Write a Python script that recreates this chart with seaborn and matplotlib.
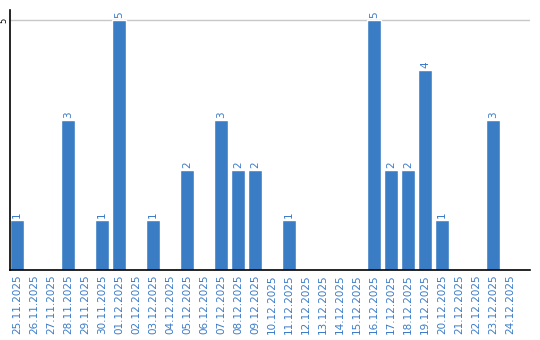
import matplotlib
matplotlib.use("Agg")
import matplotlib.pyplot as plt
import seaborn as sns
import pandas as pd

dates = ["25.11.2025", "26.11.2025", "27.11.2025", "28.11.2025", "29.11.2025",
         "30.11.2025", "01.12.2025", "02.12.2025", "03.12.2025", "04.12.2025",
         "05.12.2025", "06.12.2025", "07.12.2025", "08.12.2025", "09.12.2025",
         "10.12.2025", "11.12.2025", "12.12.2025", "13.12.2025", "14.12.2025",
         "15.12.2025", "16.12.2025", "17.12.2025", "18.12.2025", "19.12.2025",
         "20.12.2025", "21.12.2025", "22.12.2025", "23.12.2025", "24.12.2025"]
values = [1, 0, 0, 3, 0, 1, 5, 0, 1, 0,
          2, 0, 3, 2, 2, 0, 1, 0, 0, 0,
          0, 5, 2, 2, 4, 1, 0, 0, 3, 0]

sns.set_theme(style="white")
plt.rcParams['font.family'] = ['DejaVu Sans']

df = pd.DataFrame({"date": dates, "value": values})

fig = plt.figure(figsize=(5.4, 3.4), dpi=100)
ax = fig.add_axes([10/540, 70/340, 520/540, 260/340])

bar_color = "#3b7dc4"
text_color = "#3a7bc8"
sns.barplot(data=df, x="date", y="value", color=bar_color, width=0.82,
            saturation=1, ax=ax)

ax.set_xlim(-0.42, 30.18)
ax.set_ylim(0, 5.2)
ax.set_yticks([5])
ax.set_yticklabels(["5"], rotation=90, va="center", fontsize=6, color="black")
ax.tick_params(axis="y", length=0, pad=1)
ax.tick_params(axis="x", length=0, pad=3)
ax.set_xticks(range(len(dates)))
ax.set_xticklabels(dates, rotation=90, fontsize=7.5, color=text_color)
ax.set_xlabel("")
ax.set_ylabel("")
ax.axhline(5, color="#c8c8c8", lw=1, zorder=0)

for s in ["top", "right"]:
    ax.spines[s].set_visible(False)
for s in ["left", "bottom"]:
    ax.spines[s].set_color("black")
    ax.spines[s].set_linewidth(1.2)

for i, v in enumerate(values):
    if v > 0:
        ax.text(i, v + 0.04, str(v), rotation=90, ha="center", va="bottom",
                fontsize=7.5, color=text_color)

fig.savefig("out.png", dpi=100)
